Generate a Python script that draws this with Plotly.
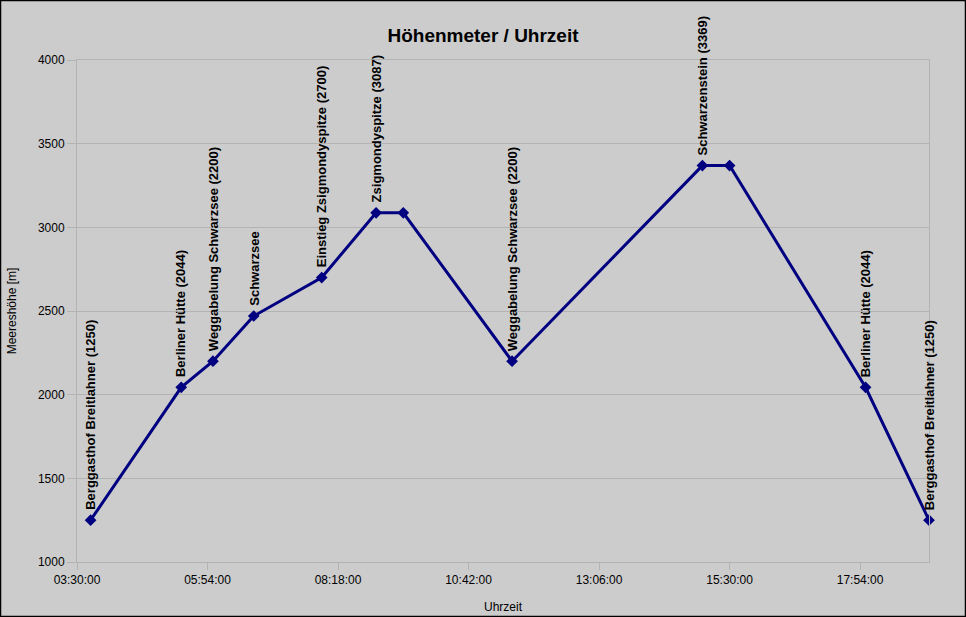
import plotly.graph_objects as go

# Tour: Berggasthof Breitlahner - Berliner Huette - Schwarzenstein
day = "2000-01-01 "
times = ["03:45", "05:25", "06:00", "06:45", "08:00", "09:00",
         "09:30", "11:30", "15:00", "15:30", "18:00", "19:10"]
heights = [1250, 2044, 2200, 2470, 2700, 3087,
           3087, 2200, 3369, 3369, 2044, 1250]
labels = ["Berggasthof Breitlahner (1250)",
          "Berliner Hütte (2044)",
          "Weggabelung Schwarzsee (2200)",
          "Schwarzsee",
          "Einstieg Zsigmondyspitze (2700)",
          "Zsigmondyspitze (3087)",
          "",
          "Weggabelung Schwarzsee (2200)",
          "Schwarzenstein (3369)",
          "",
          "Berliner Hütte (2044)",
          "Berggasthof Breitlahner (1250)"]

xdata = [day + t for t in times]

W, H = 966, 617
ml, mr, mt, mb = 77, 37, 60, 55
pw, ph = W - ml - mr, H - mt - mb
font_family = "Liberation Sans, Arial, sans-serif"

fig = go.Figure()
fig.add_trace(go.Scatter(
    x=xdata, y=heights,
    mode="lines+markers",
    line=dict(color="#000080", width=3),
    marker=dict(symbol="diamond", size=9, color="#000080"),
    cliponaxis=False,
    hoverinfo="x+y",
    showlegend=False,
))

annotations = []
for x, y, txt in zip(xdata, heights, labels):
    if not txt:
        continue
    annotations.append(dict(
        x=x, y=y, text="<b>" + txt + "</b>",
        textangle=-90, showarrow=False,
        xanchor="center", yanchor="bottom", yshift=8,
        font=dict(family=font_family, size=13, color="black"),
    ))

# thin black frame around the whole picture
border = dict(
    type="rect", xref="paper", yref="paper",
    x0=(0.5 - ml) / pw, x1=(W - 0.5 - ml) / pw,
    y0=(0.5 - mb) / ph, y1=(H - 0.5 - mb) / ph,
    line=dict(color="black", width=1.5),
)

fig.update_layout(
    width=W, height=H,
    margin=dict(l=ml, r=mr, t=mt, b=mb),
    paper_bgcolor="#cccccc",
    plot_bgcolor="#cccccc",
    font=dict(family=font_family, size=12, color="black"),
    title=dict(text="<b>Höhenmeter / Uhrzeit</b>", x=0.5, xref="container",
               xanchor="center", y=1 - 35 / H, yanchor="middle",
               font=dict(size=19)),
    annotations=annotations,
    shapes=[border],
    xaxis=dict(
        type="date",
        range=[day + "03:30", day + "19:10"],
        tick0=day + "03:30:00", dtick=144 * 60 * 1000,
        tickformat="%H:%M:%S",
        showgrid=False, zeroline=False,
        showline=True, linecolor="#b3b3b3", mirror=True,
        ticks="outside", ticklen=7, tickcolor="#b3b3b3",
        automargin=False,
        title=dict(text="Uhrzeit", font=dict(size=12), standoff=16),
    ),
    yaxis=dict(
        range=[1000, 4000], dtick=500,
        showgrid=True, gridcolor="#b3b3b3", zeroline=False,
        showline=True, linecolor="#b3b3b3", mirror=True,
        ticks="outside", ticklen=9, tickcolor="#b3b3b3",
        automargin=False,
        title=dict(text="Meereshöhe [m]", font=dict(size=12), standoff=18),
    ),
)

fig.write_html("out.html",
               config={"displayModeBar": False},
               post_script="document.body.style.margin='0';")
